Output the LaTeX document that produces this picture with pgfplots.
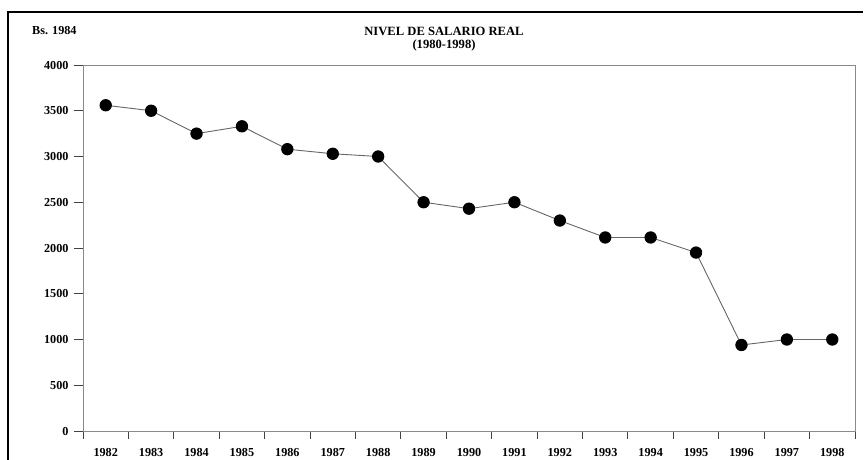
\documentclass[border=0pt]{standalone}
\usepackage{fontspec}
\setmainfont{Liberation Serif}
\usepackage{pgfplots}
\pgfplotsset{compat=1.18}
\definecolor{axgray}{HTML}{8A8A8A}
\definecolor{tickgray}{HTML}{444444}
\definecolor{linegray}{HTML}{666666}
\begin{document}
\begin{tikzpicture}
\useasboundingbox (0pt,0pt) rectangle (865pt,-460pt);
\draw[line width=1.6pt,black] (8pt,-480pt) -- (8pt,-12pt) -- (863pt,-12pt);
\node[anchor=west,font=\fontsize{12.2}{12}\selectfont\bfseries,inner sep=0pt] at (32pt,-31pt) {Bs. 1984};
\node[align=center,font=\fontsize{12.6}{12.5}\selectfont\bfseries,inner sep=0pt] at (444pt,-39pt) {NIVEL DE SALARIO REAL\\(1980-1998)};
\begin{axis}[
  at={(83pt,-431pt)}, anchor=south west,
  scale only axis, width=772pt, height=366pt,
  xmin=-0.5, xmax=16.5, ymin=0, ymax=4000,
  axis line style={axgray, line width=0.9pt},
  xtick={0,...,16},
  xticklabels={1982,1983,1984,1985,1986,1987,1988,1989,1990,1991,1992,1993,1994,1995,1996,1997,1998},
  minor xtick={-0.5,0.5,...,16.5},
  ytick={0,500,...,4000},
  tick align=outside, xtick pos=bottom, ytick pos=left,
  major tick length=9pt, minor tick length=8pt,
  xtick style={draw=none},
  minor x tick style={draw=tickgray, line width=0.9pt},
  ytick style={draw=tickgray, line width=0.9pt},
  /pgf/number format/assume math mode=true,
  /pgf/number format/1000 sep={},
  tick label style={font=\fontsize{12.2}{12}\selectfont\bfseries},
  xticklabel style={yshift=-4.5pt},
  yticklabel style={xshift=-2pt},
  clip=false,
]
\addplot[linegray, line width=0.9pt, mark=*, mark size=5.7pt, mark options={fill=black, draw=black, solid}]
coordinates {
(0,3560) (1,3500) (2,3250) (3,3330) (4,3080) (5,3030) (6,3000) (7,2500) (8,2430) (9,2500) (10,2300) (11,2115) (12,2115) (13,1950) (14,940) (15,1000) (16,1000)
};
\end{axis}
\end{tikzpicture}
\end{document}
